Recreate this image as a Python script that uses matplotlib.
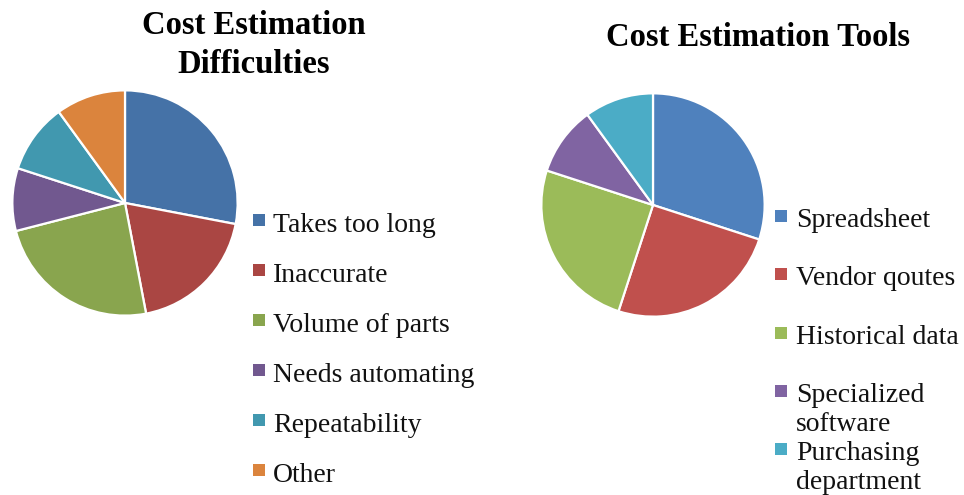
import matplotlib.pyplot as plt
from matplotlib.patches import Rectangle

# Cost estimation survey: two pie charts
difficulty_labels = ["Takes too long", "Inaccurate", "Volume of parts",
                     "Needs automating", "Repeatability", "Other"]
difficulty_share = [28, 19, 24, 9, 10, 10]
difficulty_colors = ["#4572A7", "#AA4643", "#89A54E", "#71588F", "#4198AF", "#DB843D"]

tool_labels = ["Spreadsheet", "Vendor qoutes", "Historical data",
               "Specialized\nsoftware", "Purchasing\ndepartment"]
tool_share = [30, 25, 25, 10, 10]
tool_colors = ["#4F81BD", "#C0504D", "#9BBB59", "#8064A2", "#4BACC6"]

W, H = 964, 495
fig = plt.figure(figsize=(W / 100, H / 100), dpi=100)
fig.patch.set_facecolor("white")

serif = ["Liberation Serif", "DejaVu Serif"]


def pie_axes(cx, cy, r):
    # square axes in pixel coordinates, top-left origin
    return fig.add_axes([(cx - r) / W, (H - cy - r) / H, 2 * r / W, 2 * r / H])


def draw_pie(ax, values, colors):
    ax.pie(values, colors=colors, startangle=90, counterclock=False, radius=1,
           wedgeprops=dict(edgecolor="white", linewidth=1.6))
    ax.set_xlim(-1.03, 1.03)
    ax.set_ylim(-1.03, 1.03)
    ax.set_aspect("equal")
    ax.axis("off")


def draw_legend(labels, colors, box_x, text_x, top_y, step, text_dy=1):
    for i, (lab, col) in enumerate(zip(labels, colors)):
        y = top_y + i * step
        fig.patches.append(Rectangle(((box_x) / W, (H - y - 12) / H), 12 / W, 12 / H,
                                     transform=fig.transFigure, facecolor=col,
                                     edgecolor="none"))
        fig.text(text_x / W, (H - y + text_dy) / H, lab, fontsize=20, family=serif,
                 va="top", ha="left", linespacing=1.22, color="#111111")


ax1 = pie_axes(125, 203, 116)
draw_pie(ax1, difficulty_share, difficulty_colors)
ax2 = pie_axes(653, 205, 115)
draw_pie(ax2, tool_share, tool_colors)

draw_legend(difficulty_labels, difficulty_colors, 253, 273, 214, 50)
draw_legend(tool_labels, tool_colors, 775, 796, 210, 58.3, text_dy=2)

fig.text(254 / W, 1 - 45 / H, "Cost Estimation\nDifficulties", fontsize=23.5,
         fontweight="bold", family=serif, ha="center", va="center", linespacing=1.3)
fig.text(758 / W, 1 - 38 / H, "Cost Estimation Tools", fontsize=23.5,
         fontweight="bold", family=serif, ha="center", va="center")

fig.savefig("out.png", dpi=100)
